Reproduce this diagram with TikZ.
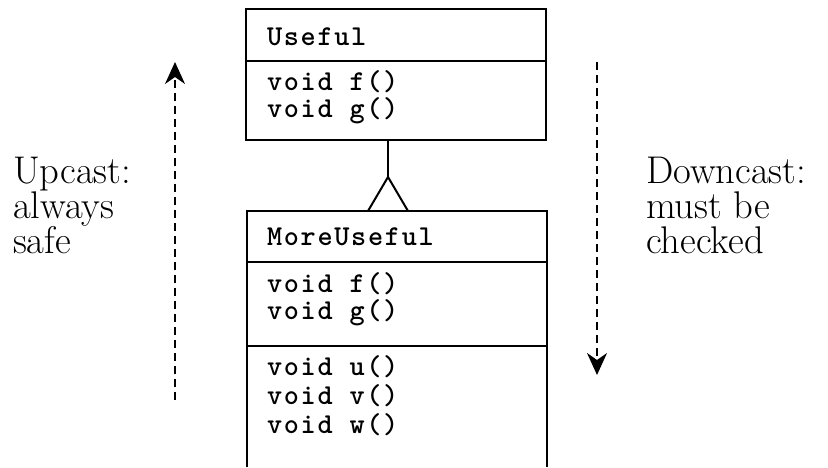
\documentclass[tikz,border=0pt]{standalone}
\usepackage{fontspec}
\newfontfamily\opsface{lmmonolt10-bold.otf}[LetterSpace=6]
\usepackage{tikz}
\usetikzlibrary{arrows.meta}

\lineskiplimit=-20pt
\tikzset{
  member/.style={anchor=base west, inner sep=0pt, align=left},
  caption/.style={anchor=base west, inner sep=0pt, align=left, font=\fontsize{19.3}{17.5}\selectfont},
  castarrow/.style={dashed, dash pattern=on 4pt off 2.5pt, line width=0.8pt, -{Stealth[length=11pt, width=10pt, inset=3.5pt]}}
}
\newcommand{\opsfont}[1]{\opsface\fontsize{14.4}{#1}\selectfont}

\begin{document}
\begin{tikzpicture}[x=0.5pt, y=-0.5pt, line width=1pt]
\useasboundingbox (0,0) rectangle (828,467);
% Class Useful
    \draw (246,9) rectangle (546,140);
    \draw (246,61) -- (546,61);
    \node[member, font=\opsfont{13.5}] (useful name) at (266,45) {Useful};
    \node[member, font=\opsfont{13.5}] (useful ops) at (266,117) {void f()\\void g()};
% Class MoreUseful (cut off at the bottom)
    \draw (247,467) -- (247,211) -- (547,211) -- (547,467);
    \draw (247,262) -- (547,262);
    \draw (247,346) -- (547,346);
    \node[member, font=\opsfont{13.5}] (more name) at (266,245) {MoreUseful};
    \node[member, font=\opsfont{13.5}] (more inherited) at (266,319) {void f()\\void g()};
    \node[member, font=\opsfont{14.5}] (more own) at (266,433) {void u()\\void v()\\void w()};
% Inheritance
    \coordinate (base) at (388,140);
    \coordinate (apex) at (388,177);
    \draw (base) -- (apex);
    \draw (368,211) -- (apex) -- (408,211);
% Upcast
    \coordinate (up start) at (175,400);
    \coordinate (up end) at (175,62);
    \draw[castarrow] (up start) -- (up end);
    \node[caption] (upcast) at (12,253) {Upcast:\\always\\safe};
% Downcast
    \coordinate (down start) at (597,62);
    \coordinate (down end) at (597,375);
    \draw[castarrow] (down start) -- (down end);
    \node[caption] (downcast) at (645,253) {Downcast:\\must be\\checked};
\end{tikzpicture}
\end{document}
